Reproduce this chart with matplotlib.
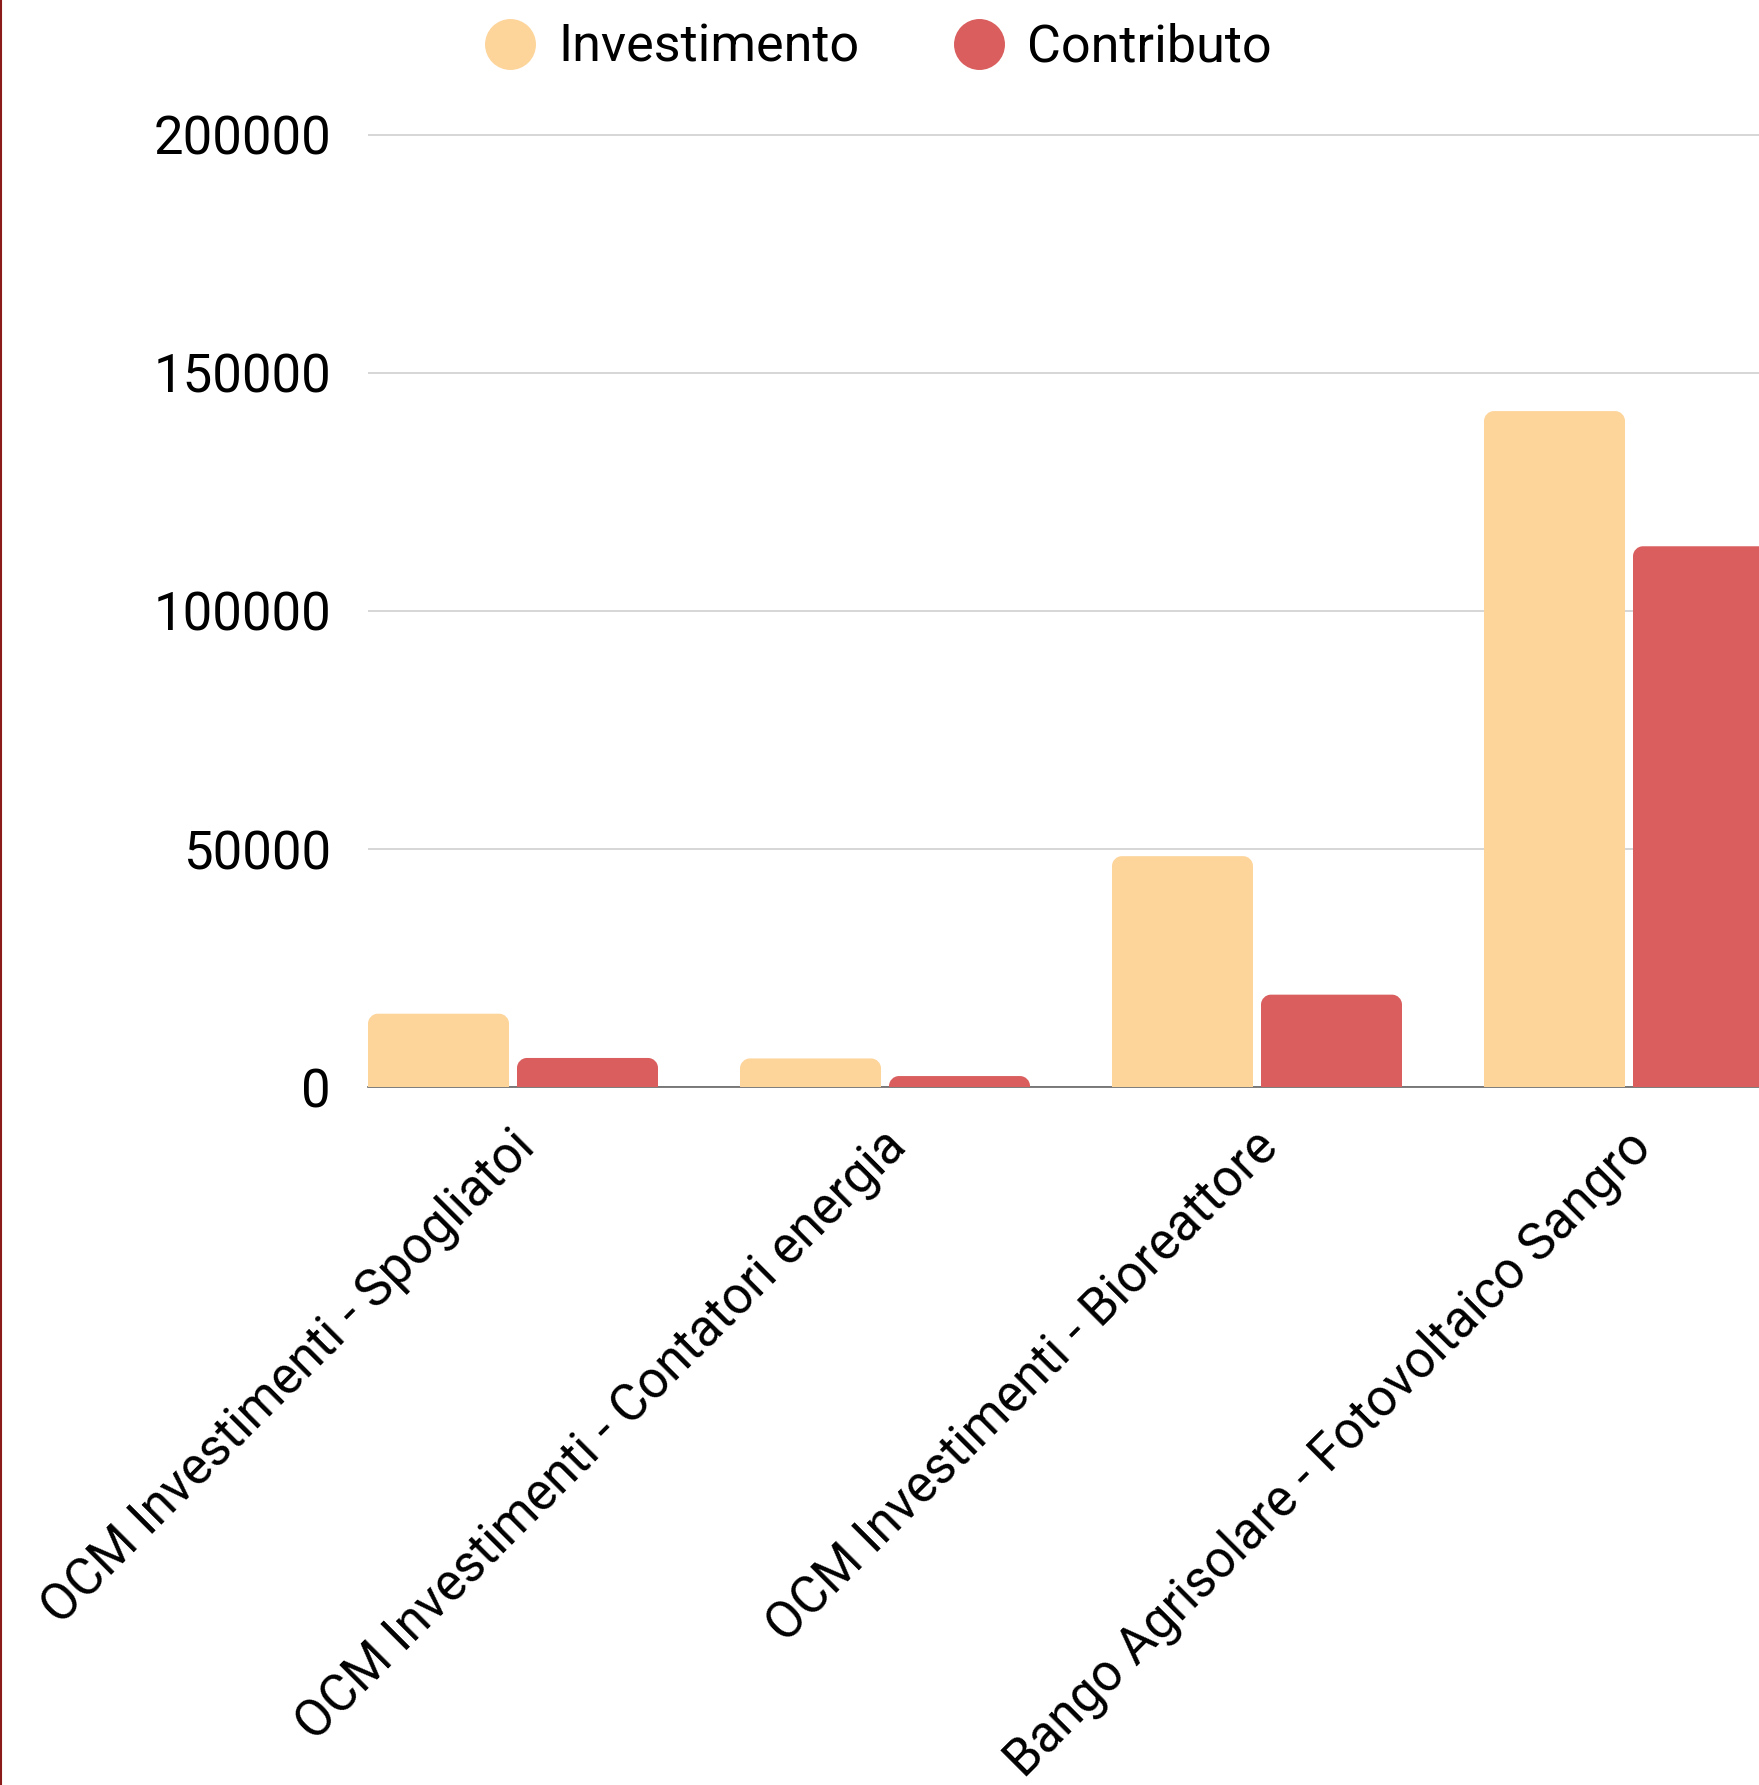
import numpy as np
import matplotlib
matplotlib.use("Agg")
from matplotlib import pyplot as plt
from matplotlib.patches import PathPatch
from matplotlib.path import Path
from matplotlib.lines import Line2D
from matplotlib.transforms import ScaledTranslation

plt.rcParams['font.family'] = ['Roboto', 'DejaVu Sans']

# Projects and amounts (EUR)
progetti = [
    "OCM Investimenti - Spogliatoi",
    "OCM Investimenti - Contatori energia",
    "OCM Investimenti - Bioreattore",
    "Bango Agrisolare - Fotovoltaico Sangro",
]
investimento = [15400, 6000, 48500, 142000]
contributo = [6100, 2300, 19400, 113600]
y_ticks = [0, 50000, 100000, 150000, 200000]

col_inv = "#FDD59B"
col_contr = "#DA5E5E"

W, H, DPI = 1759, 1785, 100
fig = plt.figure(figsize=(W / DPI, H / DPI), dpi=DPI)

# axes geometry in pixels
px_x = 372.0              # pixels per category
px_y = 238.0 / 50000      # pixels per euro
x0_px, y0_px = 368, 1087
ymax = 202000
ax_h = ymax * px_y
ax = fig.add_axes([x0_px / W, (H - y0_px) / H, (W - x0_px) / W, ax_h / H])
xmin = -145 / px_x
ax.set_xlim(xmin, xmin + (W - x0_px) / px_x)
ax.set_ylim(0, ymax)

bw = 141 / px_x
off = 74.5 / px_x
x = np.arange(len(progetti))
bars_inv = ax.bar(x - off, investimento, width=bw, color=col_inv, label="Investimento")
bars_contr = ax.bar(x + off, contributo, width=bw, color=col_contr, label="Contributo")


def top_rounded(x0, w, h, rx, ry):
    # bar outline with rounded top corners (quarter circles as cubic beziers)
    k = 0.5523
    ry = min(ry, h)
    x1 = x0 + w
    verts = [
        (x0, 0), (x0, h - ry),
        (x0, h - ry + k * ry), (x0 + rx - k * rx, h), (x0 + rx, h),
        (x1 - rx, h),
        (x1 - rx + k * rx, h), (x1, h - ry + k * ry), (x1, h - ry),
        (x1, 0), (x0, 0),
    ]
    codes = [Path.MOVETO, Path.LINETO,
             Path.CURVE4, Path.CURVE4, Path.CURVE4,
             Path.LINETO,
             Path.CURVE4, Path.CURVE4, Path.CURVE4,
             Path.LINETO, Path.CLOSEPOLY]
    return Path(verts, codes)


rx = 10 / px_x
ry = 10 / px_y
for bars in (bars_inv, bars_contr):
    for r in bars:
        r.set_visible(False)
        ax.add_patch(PathPatch(top_rounded(r.get_x(), r.get_width(), r.get_height(), rx, ry),
                               facecolor=r.get_facecolor(), edgecolor="none", zorder=3))

for s in ax.spines.values():
    s.set_visible(False)
ax.set_yticks(y_ticks)
ax.set_yticklabels([str(v) for v in y_ticks])
ax.yaxis.grid(True, color="#cccccc", linewidth=1.1, zorder=0)
ax.set_axisbelow(True)
ax.axhline(0, color="#666666", linewidth=1.2, zorder=2, clip_on=False)
ax.tick_params(axis="y", length=0, pad=26.6, labelsize=38, labelcolor="black")
ax.tick_params(axis="x", length=0, pad=38, labelsize=37, labelcolor="black")

ax.set_xticks(x)
ax.set_xticklabels(progetti, rotation=45, ha="right", va="center",
                   rotation_mode="anchor")
for lab in ax.get_xticklabels():
    lab.set_transform(lab.get_transform() + ScaledTranslation(14 / DPI, 0, fig.dpi_scale_trans))

handles = [
    Line2D([], [], linestyle="none", marker="o", markersize=36.7,
           markerfacecolor=col_inv, markeredgecolor="none"),
    Line2D([], [], linestyle="none", marker="o", markersize=36.7,
           markerfacecolor=col_contr, markeredgecolor="none"),
]
fig.legend(handles, ["Investimento", "Contributo"], loc="center", ncol=2,
           bbox_to_anchor=(878 / W, 1 - 48 / H), frameon=False,
           fontsize=37.5, handlelength=1.0, handletextpad=0.42,
           columnspacing=1.8, borderpad=0)

# thin border on the left edge
fig.add_artist(Line2D([1 / W, 1 / W], [0, 1], color="#8b1a1a", linewidth=1.5,
                      transform=fig.transFigure))

fig.savefig("out.png", dpi=DPI)
